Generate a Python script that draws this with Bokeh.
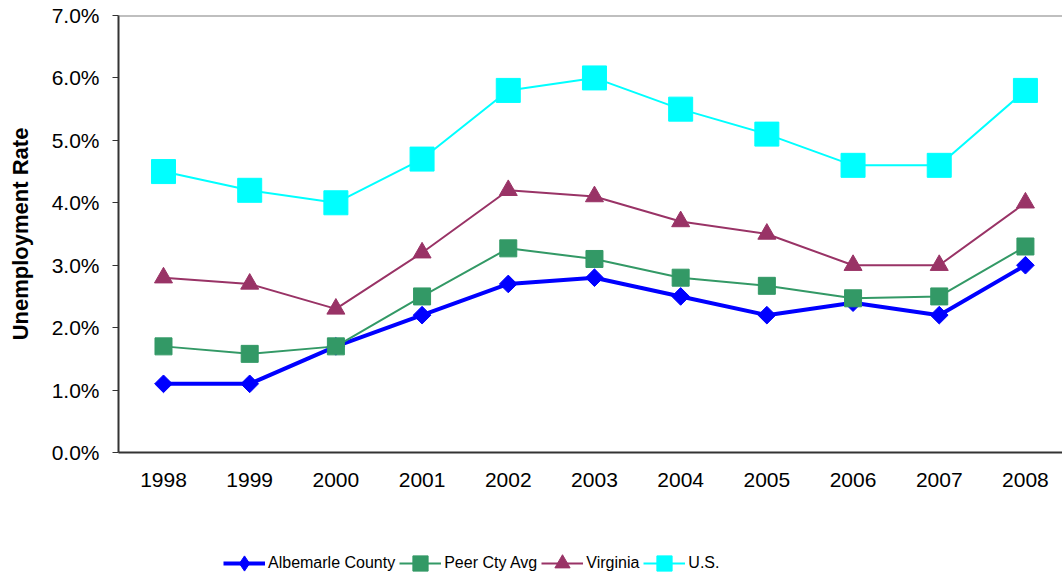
from bokeh.plotting import figure
from bokeh.layouts import column
from bokeh.models import Range1d, FixedTicker, Legend, LegendItem, Span, CustomJSTickFormatter
from bokeh.embed import file_html
from bokeh.resources import INLINE
import math

years = [1998, 1999, 2000, 2001, 2002, 2003, 2004, 2005, 2006, 2007, 2008]
albemarle = [1.1, 1.1, 1.7, 2.2, 2.7, 2.8, 2.5, 2.2, 2.4, 2.2, 3.0]
peer = [1.7, 1.58, 1.7, 2.5, 3.27, 3.1, 2.8, 2.67, 2.47, 2.5, 3.3]
virginia = [2.8, 2.7, 2.3, 3.2, 4.2, 4.1, 3.7, 3.5, 3.0, 3.0, 4.0]
us = [4.5, 4.2, 4.0, 4.7, 5.8, 6.0, 5.5, 5.1, 4.6, 4.6, 5.8]
y_ticks = [0, 1, 2, 3, 4, 5, 6, 7]

FONT = "Liberation Sans"

p = figure(width=1062, height=500, output_backend="svg", toolbar_location=None,
           x_range=Range1d(1997.478, 2008.43), y_range=Range1d(0, 7),
           min_border_left=118, min_border_top=15, min_border_right=0, min_border_bottom=48)
p.outline_line_color = None
p.grid.visible = False
p.background_fill_color = "white"
p.border_fill_color = "white"

p.add_layout(Span(location=7, dimension="width", line_color="#808080", line_width=2))

p.xaxis.ticker = FixedTicker(ticks=years)
p.xaxis.major_tick_line_color = None
p.xaxis.major_tick_out = 0
p.xaxis.major_tick_in = 0
p.xaxis.minor_tick_line_color = None
p.xaxis.axis_line_color = "#333333"
p.xaxis.axis_line_width = 2
p.xaxis.major_label_text_font = FONT
p.xaxis.major_label_text_font_size = "21px"
p.xaxis.major_label_text_color = "black"
p.xaxis.major_label_standoff = 20

p.yaxis.ticker = FixedTicker(ticks=y_ticks)
p.yaxis.formatter = CustomJSTickFormatter(code="return tick.toFixed(1) + '%';")
p.yaxis.minor_tick_line_color = None
p.yaxis.major_tick_in = 0
p.yaxis.major_tick_out = 6
p.yaxis.major_tick_line_color = "#333333"
p.yaxis.axis_line_color = "#333333"
p.yaxis.axis_line_width = 2
p.yaxis.major_label_text_font = FONT
p.yaxis.major_label_text_font_size = "21px"
p.yaxis.major_label_text_color = "black"
p.yaxis.major_label_standoff = 13
p.yaxis.axis_label = "Unemployment Rate"
p.yaxis.axis_label_text_font = FONT
p.yaxis.axis_label_text_font_size = "22px"
p.yaxis.axis_label_text_font_style = "bold"
p.yaxis.axis_label_text_color = "black"
p.yaxis.axis_label_standoff = 16

# name, values, color, line width, marker, size, angle, legend marker
series = [
    ("Albemarle County", albemarle, "#0000FF", 4, "square", 12.5, math.pi / 4, "diamond"),
    ("Peer Cty Avg", peer, "#339966", 2, "square", 17, 0, "square"),
    ("Virginia", virginia, "#993366", 2, "triangle", 18, 0, "triangle"),
    ("U.S.", us, "#00FFFF", 2, "square", 24, 0, "square"),
]

# legend strip below the chart (its own renderers reuse the data but lie outside its view)
lf = figure(width=1062, height=78, output_backend="svg", toolbar_location=None,
            x_range=Range1d(0, 1), y_range=Range1d(0, 1),
            min_border_left=0, min_border_top=0, min_border_right=0, min_border_bottom=0)
lf.axis.visible = False
lf.grid.visible = False
lf.outline_line_color = None
lf.border_fill_color = "white"

items = []
for name, vals, color, lw, marker, size, ang, lmarker in series:
    p.line(years, vals, line_color=color, line_width=lw)
    p.scatter(years, vals, marker=marker, size=size, angle=ang,
              fill_color=color, line_color=color)
    l1 = lf.line(years, vals, line_color=color, line_width=lw)
    l2 = lf.scatter(years, vals, marker=lmarker, size=size,
                    fill_color=color, line_color=color)
    items.append(LegendItem(label=name, renderers=[l1, l2]))

legend = Legend(items=items, orientation="horizontal", location=(105, -4),
                label_text_font=FONT, label_text_font_size="16px",
                label_text_color="black",
                border_line_color=None, background_fill_alpha=0,
                glyph_width=42, glyph_height=38, spacing=4, label_standoff=3,
                padding=0, margin=0)
lf.add_layout(legend, "center")

html = file_html(column(p, lf), INLINE)
open("out.html", "w").write(html)
